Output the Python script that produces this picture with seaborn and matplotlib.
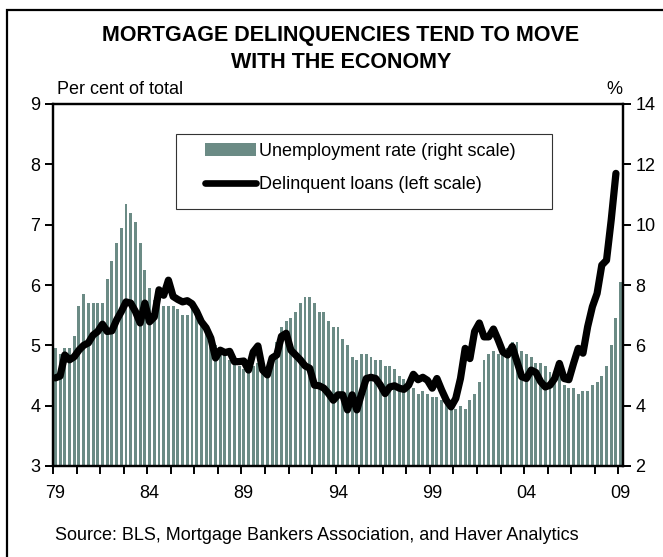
import matplotlib
matplotlib.use("Agg")
import matplotlib.pyplot as plt
from matplotlib.patches import Patch, Rectangle
from matplotlib.lines import Line2D
import numpy as np
import pandas as pd
import seaborn as sns

# quarterly data, 1979Q1 onwards
unemployment = [
    5.9, 5.7, 5.9, 5.9,   # 1979
    6.3, 7.3, 7.7, 7.4,   # 1980
    7.4, 7.4, 7.4, 8.2,   # 1981
    8.8, 9.4, 9.9, 10.7,  # 1982
    10.4, 10.1, 9.4, 8.5, # 1983
    7.9, 7.5, 7.4, 7.3,   # 1984
    7.3, 7.3, 7.2, 7.0,   # 1985
    7.0, 7.2, 7.0, 6.8,   # 1986
    6.6, 6.3, 6.0, 5.8,   # 1987
    5.7, 5.5, 5.5, 5.3,   # 1988
    5.2, 5.2, 5.3, 5.4,   # 1989
    5.3, 5.3, 5.7, 6.1,   # 1990
    6.6, 6.8, 6.9, 7.1,   # 1991
    7.4, 7.6, 7.6, 7.4,   # 1992
    7.1, 7.1, 6.8, 6.6,   # 1993
    6.6, 6.2, 6.0, 5.6,   # 1994
    5.5, 5.7, 5.7, 5.6,   # 1995
    5.5, 5.5, 5.3, 5.3,   # 1996
    5.2, 5.0, 4.9, 4.7,   # 1997
    4.6, 4.4, 4.5, 4.4,   # 1998
    4.3, 4.3, 4.2, 4.1,   # 1999
    4.0, 3.9, 4.0, 3.9,   # 2000
    4.2, 4.4, 4.8, 5.5,   # 2001
    5.7, 5.8, 5.7, 5.9,   # 2002
    5.9, 6.1, 6.1, 5.8,   # 2003
    5.7, 5.6, 5.4, 5.4,   # 2004
    5.3, 5.1, 5.0, 5.0,   # 2005
    4.7, 4.6, 4.6, 4.4,   # 2006
    4.5, 4.5, 4.7, 4.8,   # 2007
    5.0, 5.3, 6.0, 6.9,   # 2008
    8.1,                  # 2009
]

delinquent = [
    4.46, 4.49, 4.84, 4.76, 4.81, 4.92, 5.00, 5.04, 5.17, 5.23,
    5.35, 5.23, 5.24, 5.42, 5.56, 5.72, 5.70, 5.56, 5.37, 5.70,
    5.39, 5.47, 5.92, 5.83, 6.08, 5.81, 5.76, 5.72, 5.74, 5.69,
    5.56, 5.39, 5.29, 5.12, 4.79, 4.92, 4.88, 4.90, 4.73, 4.73,
    4.74, 4.59, 4.89, 4.99, 4.59, 4.51, 4.79, 4.84, 5.15, 5.20,
    4.92, 4.84, 4.76, 4.66, 4.62, 4.34, 4.33, 4.29, 4.20, 4.09,
    4.18, 4.18, 3.93, 4.18, 3.93, 4.20, 4.45, 4.47, 4.45, 4.34,
    4.20, 4.31, 4.33, 4.29, 4.27, 4.34, 4.52, 4.43, 4.47, 4.42,
    4.29, 4.45, 4.26, 4.09, 3.98, 4.12, 4.45, 4.95, 4.78, 5.23,
    5.37, 5.14, 5.14, 5.27, 5.09, 4.89, 4.84, 4.98, 4.73, 4.48,
    4.45, 4.59, 4.55, 4.40, 4.31, 4.34, 4.45, 4.70, 4.45, 4.43,
    4.70, 4.95, 4.87, 5.31, 5.64, 5.86, 6.33, 6.41, 7.08, 7.85,
]

year_labels = ["79", "84", "89", "94", "99", "04", "09"]

BAR_COLOR = "#6b8b85"

sns.set_style("ticks")
plt.rcParams["font.family"] = ["Liberation Sans", "DejaVu Sans"]
plt.rcParams["text.color"] = "black"
plt.rcParams["xtick.color"] = "black"
plt.rcParams["ytick.color"] = "black"

bars = pd.DataFrame({"q": np.arange(len(unemployment)), "rate": unemployment})
line = pd.DataFrame({"q": np.arange(len(delinquent)), "rate": delinquent})

fig = plt.figure(figsize=(6.63, 5.57), dpi=100)
ax_bar = fig.add_axes([53 / 663, 91 / 557, 570 / 663, 362 / 557])
ax_line = ax_bar.twinx()

sns.barplot(data=bars, x="q", y="rate", ax=ax_bar, native_scale=True,
            color=BAR_COLOR, width=0.62, saturation=1, edgecolor="none")
sns.lineplot(data=line, x="q", y="rate", ax=ax_line, color="black",
             linewidth=5.2, solid_capstyle="round", solid_joinstyle="round")

ax_bar.set_xlim(-0.5, len(unemployment) - 0.5)
ax_bar.set_ylim(2, 14)
ax_line.set_ylim(3, 9)

# scales: bars read on the right, line on the left
ax_bar.yaxis.tick_right()
ax_line.yaxis.tick_left()
ax_bar.set_yticks(range(2, 15, 2))
ax_line.set_yticks(range(3, 10))
for a in (ax_bar, ax_line):
    a.set_xlabel("")
    a.set_ylabel("")
    for s in a.spines.values():
        s.set_linewidth(1.6)
        s.set_color("black")
    a.tick_params(axis="y", labelsize=13, length=6, width=1.4, pad=3, colors="black")

ax_bar.set_xticks(np.arange(-0.5, len(unemployment), 5))
ax_bar.set_xticklabels([])
ax_bar.set_xticks(np.arange(0, len(unemployment), 20), minor=True)
ax_bar.set_xticklabels(year_labels, minor=True)
ax_bar.tick_params(axis="x", which="major", length=6, width=1.4, direction="out")
ax_bar.tick_params(axis="x", which="minor", length=0, pad=14, labelsize=13)

handles = [Patch(facecolor=BAR_COLOR, edgecolor="none"),
           Line2D([], [], color="black", linewidth=4.8, solid_capstyle="round")]
fig.legend(handles, ["Unemployment rate (right scale)", "Delinquent loans (left scale)"],
           loc="upper left", bbox_to_anchor=(205 / 663, 1 - 143 / 557),
           frameon=False, fontsize=13, borderpad=0, borderaxespad=0,
           handlelength=2.8, handleheight=0.7, handletextpad=0.2, labelspacing=0.9)
fig.add_artist(Rectangle((176 / 663, 1 - 209 / 557), 376 / 663, 75 / 557,
                         transform=fig.transFigure, fill=False,
                         edgecolor="#333333", linewidth=0.8))

fig.text(57 / 663, 1 - 90 / 557, "Per cent of total", fontsize=13, ha="left", va="center")
fig.text(614 / 663, 1 - 90 / 557, "%", fontsize=13, ha="center", va="center")

fig.text(341 / 663, 1 - 35 / 557, "MORTGAGE DELINQUENCIES TEND TO MOVE",
         fontsize=15.5, fontweight="bold", ha="center", va="center")
fig.text(341 / 663, 1 - 62 / 557, "WITH THE ECONOMY",
         fontsize=15.5, fontweight="bold", ha="center", va="center")

fig.text(55 / 663, 1 - 535 / 557,
         "Source: BLS, Mortgage Bankers Association, and Haver Analytics",
         fontsize=13, ha="left", va="center")

# outer frame, open on right and bottom
fig.add_artist(Rectangle((7 / 663, -0.1), 1.2, 1.1 - 10 / 557,
                         transform=fig.transFigure, fill=False,
                         edgecolor="black", linewidth=1.6, clip_on=False))

fig.savefig("out.png", dpi=100)
